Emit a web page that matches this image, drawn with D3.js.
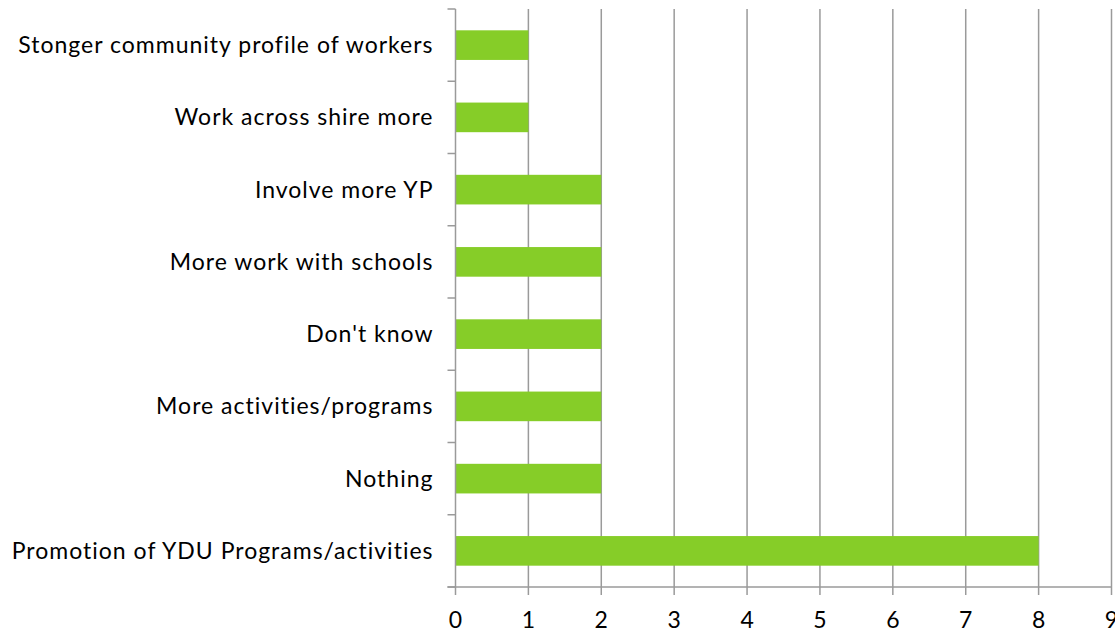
<!DOCTYPE html>
<html>
<head>
<meta charset="utf-8">
<script src="https://cdn.jsdelivr.net/npm/d3@7"></script>
<style>
  body { margin: 0; background: #fff; }
  text { font-family: "Lato", "Open Sans", sans-serif; fill: #000; }
</style>
</head>
<body>
<svg id="chart" width="1115" height="633"></svg>
<script>
// Responses, listed top to bottom
const categories = [
  "Stonger community profile of workers",
  "Work across shire more",
  "Involve more YP",
  "More work with schools",
  "Don't know",
  "More activities/programs",
  "Nothing",
  "Promotion of YDU Programs/activities"
];
const counts = [1, 1, 2, 2, 2, 2, 2, 8];
const xTicks = [0, 1, 2, 3, 4, 5, 6, 7, 8, 9];

const svg = d3.select("#chart");
const plotLeft = 455.5, plotRight = 1111.5, plotTop = 9, plotBottom = 587;
const gridColor = "#9a9a9a";
const labelSpacing = 1.0;

const x = d3.scaleLinear().domain([0, 9]).range([plotLeft, plotRight]);
const y = d3.scaleBand().domain(categories).range([plotTop, plotBottom]).paddingInner(0.59).paddingOuter(0.295);

// vertical gridlines
svg.append("g").selectAll("line").data(xTicks.slice(1)).join("line")
  .attr("x1", d => x(d)).attr("x2", d => x(d))
  .attr("y1", plotTop).attr("y2", plotBottom)
  .attr("stroke", gridColor).attr("stroke-width", 1.5);

// bars
svg.append("g").selectAll("rect").data(categories).join("rect")
  .attr("x", x(0))
  .attr("y", d => y(d))
  .attr("width", (d, i) => x(counts[i]) - x(0))
  .attr("height", y.bandwidth())
  .attr("fill", "#86cd28");

// category axis: line, ticks at band boundaries
const bandEdges = d3.range(categories.length + 1).map(i => plotTop + i * (plotBottom - plotTop) / categories.length);
const yAxis = svg.append("g");
yAxis.append("line").attr("x1", plotLeft).attr("x2", plotLeft).attr("y1", plotTop).attr("y2", plotBottom)
  .attr("stroke", gridColor).attr("stroke-width", 1.5);
yAxis.selectAll("line.tick").data(bandEdges).join("line").attr("class", "tick")
  .attr("x1", plotLeft - 8).attr("x2", plotLeft).attr("y1", d => d).attr("y2", d => d)
  .attr("stroke", gridColor).attr("stroke-width", 1.5);
yAxis.selectAll("text").data(categories).join("text")
  .attr("x", plotLeft - 23 + labelSpacing)
  .attr("y", d => y(d) + y.bandwidth() / 2 + 8)
  .attr("text-anchor", "end")
  .style("font-size", "23px")
  .style("letter-spacing", labelSpacing + "px")
  .text(d => d);

// value axis
const xAxis = svg.append("g");
xAxis.append("line").attr("x1", plotLeft - 8).attr("x2", plotRight).attr("y1", plotBottom).attr("y2", plotBottom)
  .attr("stroke", gridColor).attr("stroke-width", 1.5);
xAxis.selectAll("line.tick").data(xTicks).join("line").attr("class", "tick")
  .attr("x1", d => x(d)).attr("x2", d => x(d)).attr("y1", plotBottom).attr("y2", plotBottom + 8)
  .attr("stroke", gridColor).attr("stroke-width", 1.5);
xAxis.selectAll("text").data(xTicks).join("text")
  .attr("x", d => x(d))
  .attr("y", 628)
  .attr("text-anchor", "middle")
  .style("font-size", "23px")
  .text(d => d);
</script>
</body>
</html>
